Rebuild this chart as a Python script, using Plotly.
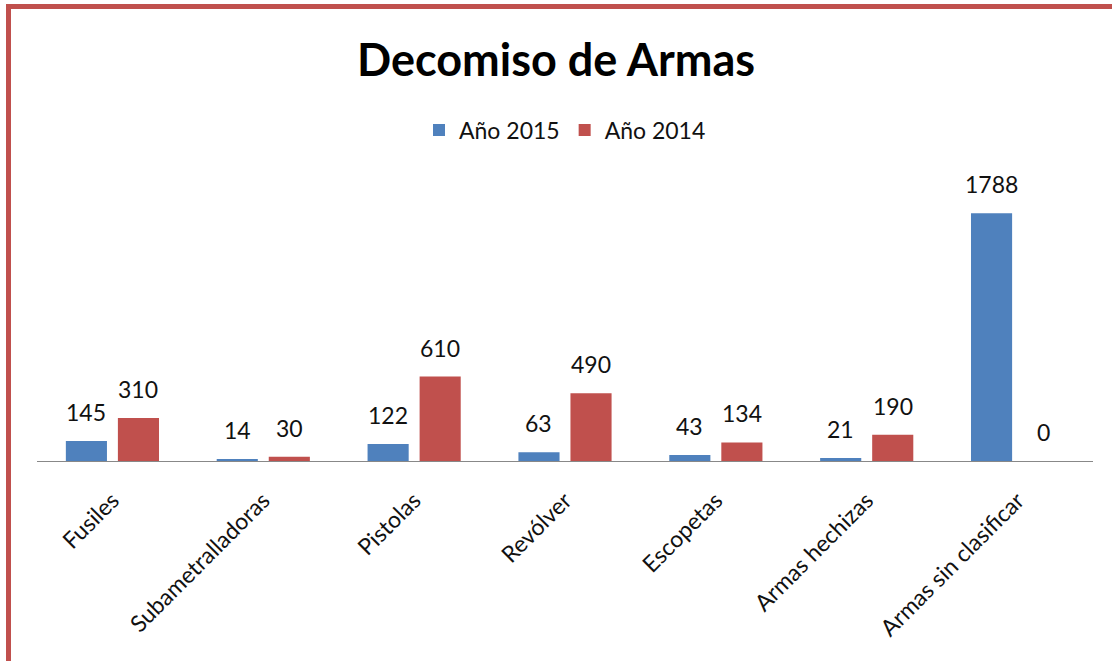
import plotly.graph_objects as go

categories = ["Fusiles", "Subametralladoras", "Pistolas", "Revólver", "Escopetas",
              "Armas hechizas", "Armas sin clasificar"]
values_2015 = [145, 14, 122, 63, 43, 21, 1788]
values_2014 = [310, 30, 610, 490, 134, 190, 0]
series_names = ["Año 2015", "Año 2014"]

W, H = 1112, 661
ML, MR, MT, MB = 37, 19, 184, 200
FONT = "Lato, Carlito, Calibri, sans-serif"
BARGAP, GROUPGAP = 0.31, 0.21

fig = go.Figure()
fig.add_trace(go.Bar(x=categories, y=values_2015, name=series_names[0],
                     marker=dict(color="#4F81BD", line=dict(width=0))))
fig.add_trace(go.Bar(x=categories, y=values_2014, name=series_names[1],
                     marker=dict(color="#C0504D", line=dict(width=0))))

pw = W - ML - MR
ph = H - MT - MB
def px_x(p): return (p - ML) / pw
def px_y(p): return (H - MB - p) / ph

# data labels above bars
cat_w = pw / len(categories)
slot = cat_w * (1 - BARGAP) / 2
annotations = []
for vals, off in ((values_2015, -slot / 2), (values_2014, slot / 2)):
    for c, v in zip(categories, vals):
        annotations.append(dict(x=c, y=v, xref="x", yref="y", text=str(v),
                                showarrow=False, xshift=off, yshift=13,
                                yanchor="bottom", xanchor="center",
                                font=dict(size=23, color="#111", family=FONT)))

border = "#C0504D"
shapes = [
    dict(type="line", xref="paper", yref="paper", x0=px_x(8.5), x1=px_x(8.5),
         y0=px_y(4), y1=px_y(H + 5), line=dict(color=border, width=5)),
    dict(type="line", xref="paper", yref="paper", x0=px_x(6), x1=px_x(W + 5),
         y0=px_y(6.5), y1=px_y(6.5), line=dict(color=border, width=5)),
]

fig.update_layout(
    width=W, height=H,
    margin=dict(l=ML, r=MR, t=MT, b=MB, autoexpand=False),
    paper_bgcolor="white", plot_bgcolor="white",
    font=dict(family=FONT, color="#111", size=20),
    title=dict(text="<b>Decomiso de Armas</b>", x=0.5, xanchor="center",
               y=1 - 60 / H, yanchor="middle", font=dict(size=45, color="#000")),
    legend=dict(orientation="h", x=0.5, xanchor="center", y=px_y(130),
                yanchor="middle", font=dict(size=23), itemsizing="constant",
                traceorder="normal"),
    barmode="group", bargap=BARGAP, bargroupgap=GROUPGAP,
    xaxis=dict(showline=True, linecolor="#888", linewidth=1, ticks="",
               tickangle=-45, tickfont=dict(size=23, color="#111"),
               ticklabelstandoff=16, showgrid=False),
    yaxis=dict(range=[0, 2000], visible=False, showgrid=False, zeroline=False),
    shapes=shapes,
    annotations=annotations,
)
fig.write_html("out.html", config={"displayModeBar": False},
               post_script="document.body.style.margin='0';")
